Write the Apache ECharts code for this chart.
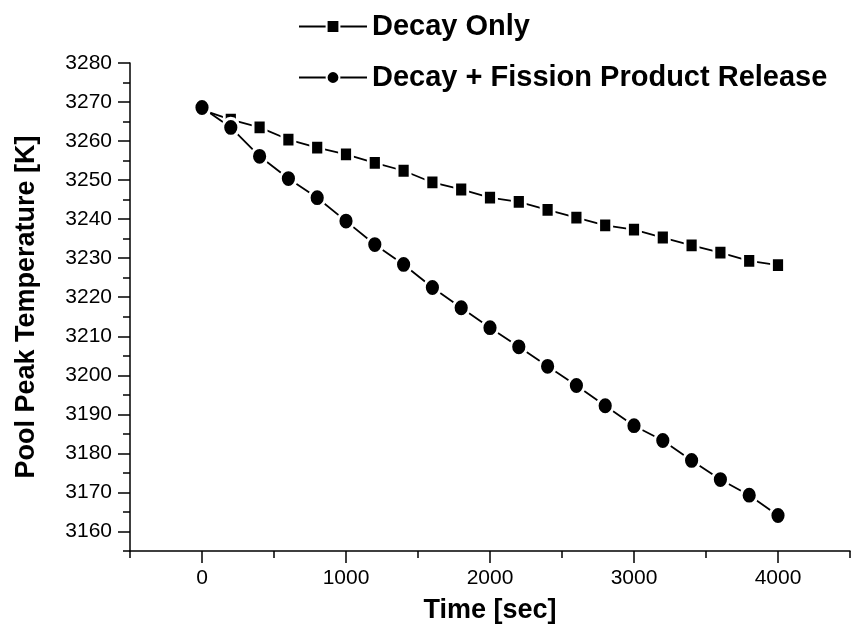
<!DOCTYPE html>
<html>
<head>
<meta charset="utf-8">
<script src="https://cdn.jsdelivr.net/npm/echarts@6/dist/echarts.min.js"></script>
<style>
  html, body { margin: 0; padding: 0; background: #fff; }
  #chart { width: 853px; height: 637px; }
</style>
</head>
<body>
<div id="chart"></div>
<script>
const times = [0, 200, 400, 600, 800, 1000, 1200, 1400, 1600, 1800, 2000,
  2200, 2400, 2600, 2800, 3000, 3200, 3400, 3600, 3800, 4000]
const decayOnly = [3268, 3265.5, 3263.5, 3260.4, 3258.3, 3256.6, 3254.4, 3252.4, 3249.4, 3247.6, 3245.5,
  3244.4, 3242.4, 3240.4, 3238.4, 3237.3, 3235.3, 3233.3, 3231.4, 3229.3, 3228.2]
const decayFission = [3268.6, 3263.5, 3256.1, 3250.4, 3245.5, 3239.5, 3233.5, 3228.4, 3222.5, 3217.3, 3212.2,
  3207.3, 3202.3, 3197.4, 3192.2, 3187.1, 3183.3, 3178.2, 3173.3, 3169.3, 3164.1]
const xMajorTicks = [0, 1000, 2000, 3000, 4000]
const yMajorTicks = [3160, 3170, 3180, 3190, 3200, 3210, 3220, 3230, 3240, 3250, 3260, 3270, 3280]
const seriesNames = ['Decay Only', 'Decay + Fission Product Release']

const FONT = 'Liberation Sans, Arial, sans-serif'

function pairs(xs, ys) {
  return xs.map((x, i) => [x, ys[i]])
}

function axisBase() {
  return {
    type: 'value',
    splitLine: { show: false },
    axisLine: { show: true, onZero: false, lineStyle: { color: '#000', width: 1.5 } },
    axisTick: { show: true, inside: false, length: 7, lineStyle: { color: '#000', width: 1.5 } }
  }
}

const chart = echarts.init(document.getElementById('chart'), null, { renderer: 'canvas' })

chart.setOption({
  animation: false,
  backgroundColor: '#fff',
  grid: { left: 130, right: 3, top: 63, bottom: 86 },
  legend: {
    orient: 'vertical',
    left: 293,
    top: 5,
    itemWidth: 68,
    itemHeight: 16,
    itemGap: 18,
    data: seriesNames,
    textStyle: { fontFamily: FONT, fontSize: 29, fontWeight: 'bold', color: '#000', lineHeight: 33 }
  },
  xAxis: [
    Object.assign(axisBase(), {
      min: -500,
      max: 4500,
      interval: 500,
      name: 'Time [sec]',
      nameLocation: 'middle',
      nameGap: 46,
      nameTextStyle: { fontFamily: FONT, fontSize: 27, fontWeight: 'bold', color: '#000' },
      axisLabel: {
        fontFamily: FONT, fontSize: 21, color: '#000', margin: 17,
        formatter: v => (v % 1000 === 0 ? String(v) : '')
      }
    }),
    Object.assign(axisBase(), {
      min: -500,
      max: 4500,
      position: 'bottom',
      axisLine: { show: false, onZero: false },
      axisTick: { show: true, length: 12, customValues: xMajorTicks, lineStyle: { color: '#000', width: 1.5 } },
      axisLabel: { show: false }
    })
  ],
  yAxis: [
    Object.assign(axisBase(), {
      min: 3155,
      max: 3280,
      interval: 5,
      name: 'Pool Peak Temperature [K]',
      nameLocation: 'middle',
      nameGap: 90,
      nameTextStyle: { fontFamily: FONT, fontSize: 27, fontWeight: 'bold', color: '#000' },
      axisLabel: {
        fontFamily: FONT, fontSize: 21, color: '#000', margin: 18,
        formatter: v => (v % 10 === 0 ? String(v) : '')
      }
    }),
    Object.assign(axisBase(), {
      min: 3155,
      max: 3280,
      position: 'left',
      axisLine: { show: false, onZero: false },
      axisTick: { show: true, length: 12, customValues: yMajorTicks, lineStyle: { color: '#000', width: 1.5 } },
      axisLabel: { show: false }
    })
  ],
  series: [
    {
      name: seriesNames[0],
      type: 'line',
      data: pairs(times, decayOnly),
      symbol: 'rect',
      symbolSize: [13, 15],
      lineStyle: { color: '#000', width: 1.8 },
      itemStyle: { color: '#000', borderColor: '#fff', borderWidth: 3 }
    },
    {
      name: seriesNames[1],
      type: 'line',
      data: pairs(times, decayFission),
      symbol: 'circle',
      symbolSize: [16, 18],
      lineStyle: { color: '#000', width: 1.8 },
      itemStyle: { color: '#000', borderColor: '#fff', borderWidth: 3 }
    }
  ]
})
</script>
</body>
</html>
